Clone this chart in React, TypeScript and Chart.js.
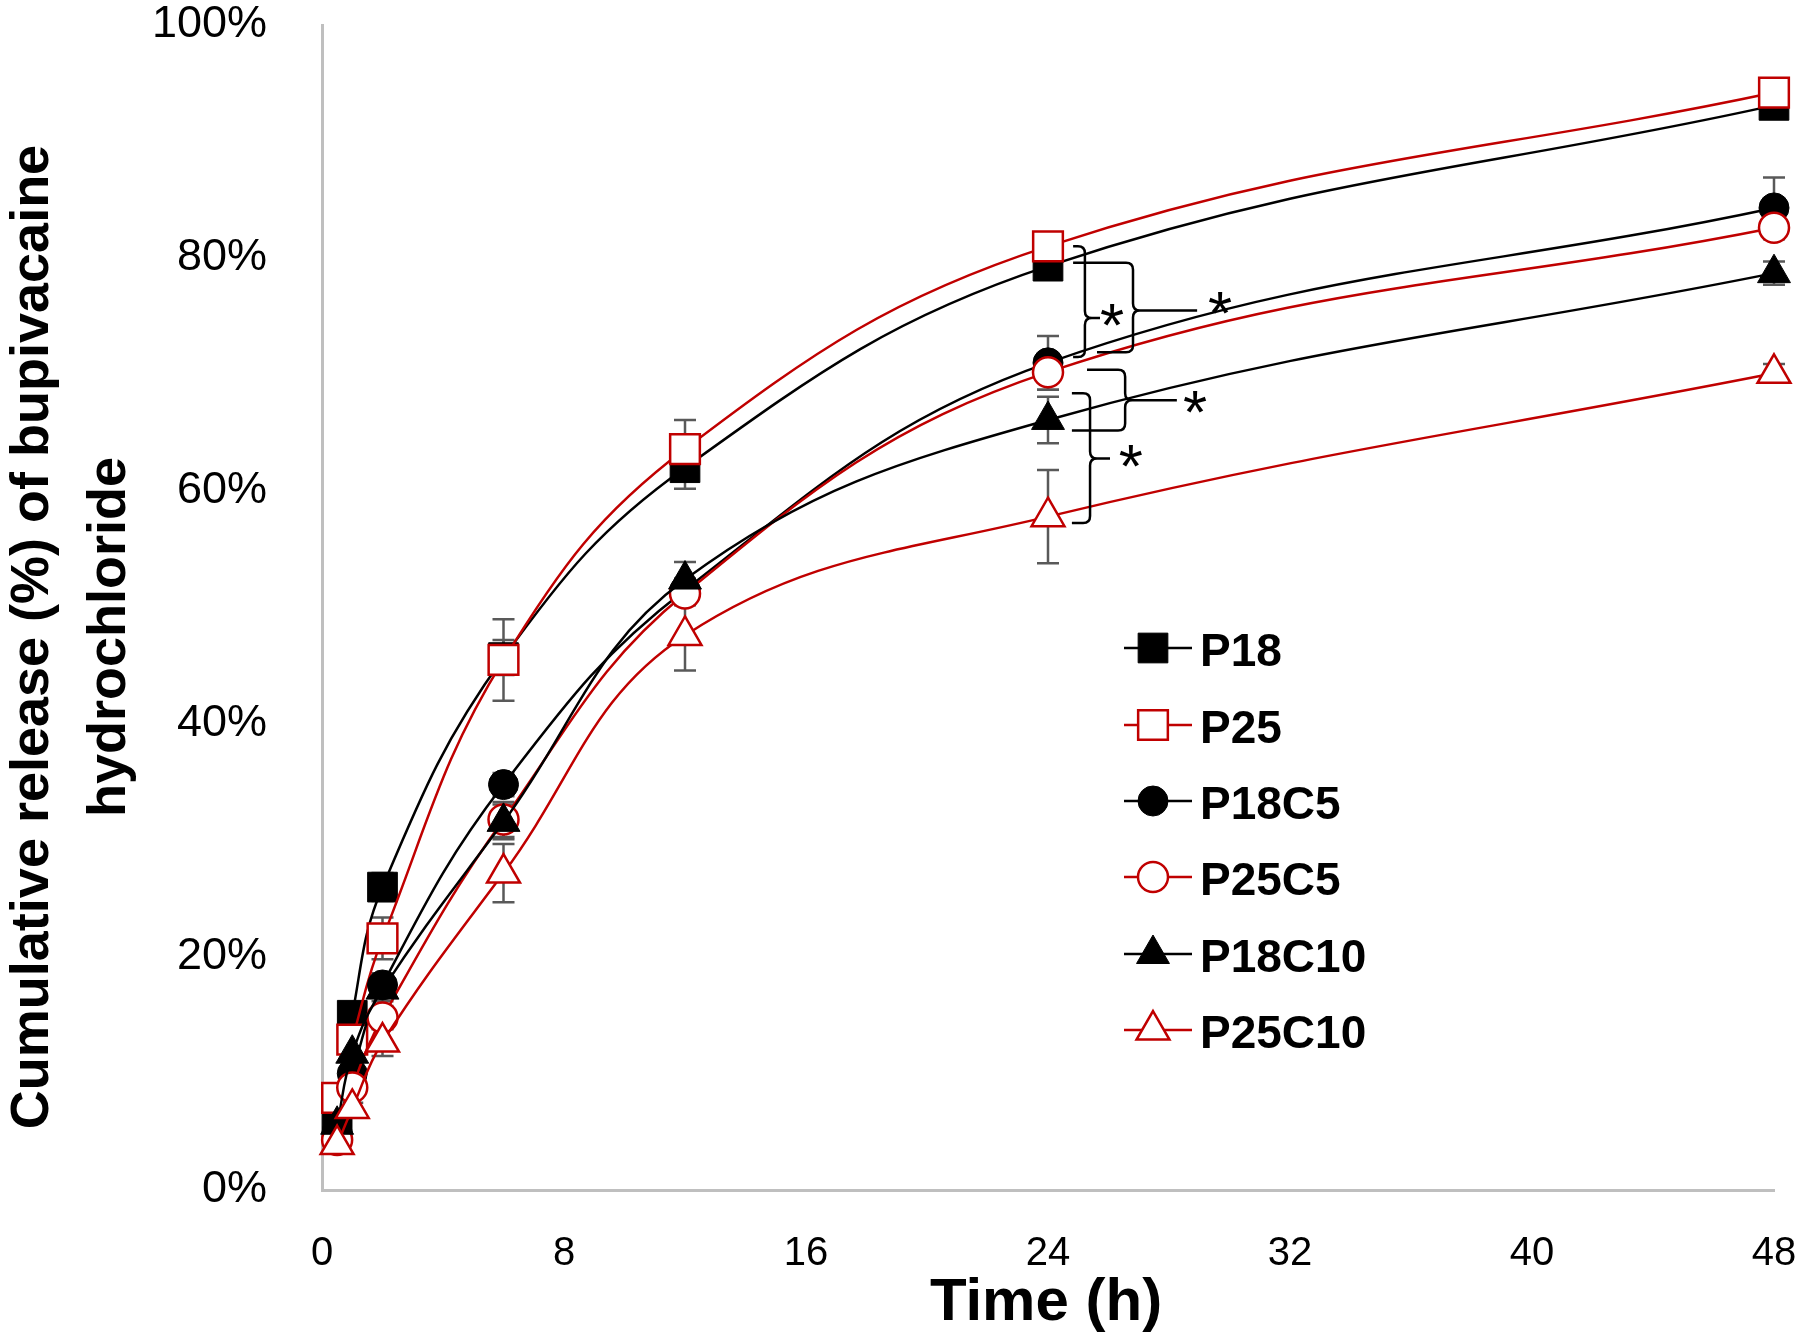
import React, { useEffect, useRef } from 'react';
import { Chart, registerables } from 'chart.js';

Chart.register(...registerables);

// ---------- data ----------
const timePoints = [0.5, 1, 2, 6, 12, 24, 48];
const seriesNames = ['P18', 'P25', 'P18C5', 'P25C5', 'P18C10', 'P25C10'];

const p18 = [5.5, 15.0, 26.0, 45.7, 62.0, 79.3, 93.1];
const p25 = [7.9, 12.9, 21.6, 45.5, 63.6, 81.0, 94.2];
const p18c5 = [5.0, 10.0, 17.6, 34.8, 51.5, 71.0, 84.3];
const p25c5 = [4.3, 8.8, 14.8, 31.8, 51.2, 70.2, 82.6];
const p18c10 = [5.6, 11.7, 17.2, 31.6, 52.4, 66.1, 78.7];
const p25c10 = [3.9, 7.0, 12.7, 27.2, 47.6, 57.8, 70.1];

const p18Err = [0.3, 0.5, 1.2, 1.5, 1.8, 0.8, 0.5];
const p25Err = [0.5, 0.8, 1.8, 3.5, 2.5, 0.8, 0.5];
const p18c5Err = [0.3, 0.5, 1.0, 1.0, 1.0, 2.3, 2.6];
const p25c5Err = [0.3, 0.5, 1.0, 1.5, 1.0, 1.5, 1.0];
const p18c10Err = [0.3, 0.5, 1.0, 1.5, 1.5, 2.0, 1.0];
const p25c10Err = [0.3, 0.5, 1.2, 2.5, 3.0, 4.0, 0.8];

const xTickStep = 8;
const yTickStep = 20;

const yTitleLines = ['Cumulative release (%) of bupivacaine', 'hydrochloride'];
const xTitle = 'Time (h)';

// significance braces, in data units (hours, percent)
const braceAnnotations = [
  { top: 81.0, bottom: 71.5, mid: 74.85, armTop: 24.83, armBot: 24.83, xv: 25.22, tip: 25.72, starX: 26.12, starY: 75.1 },
  { top: 79.6, bottom: 71.9, mid: 75.5, armTop: 24.83, armBot: 25.62, xv: 26.81, tip: 28.93, starX: 29.69, starY: 76.1 },
  { top: 70.4, bottom: 65.2, mid: 67.8, armTop: 25.29, armBot: 24.79, xv: 26.55, tip: 28.26, starX: 28.86, starY: 67.6 },
  { top: 68.4, bottom: 57.25, mid: 62.8, armTop: 24.79, armBot: 24.79, xv: 25.39, tip: 26.05, starX: 26.74, starY: 63.0 },
];

const RED = '#C00000';
const BLACK = '#000000';

const seriesValues = [p18, p25, p18c5, p25c5, p18c10, p25c10];
const seriesErrors = [p18Err, p25Err, p18c5Err, p25c5Err, p18c10Err, p25c10Err];
const seriesColors = [BLACK, RED, BLACK, RED, BLACK, RED];
const seriesFilled = [true, false, true, false, true, false];
const seriesShapes = ['rect', 'rect', 'circle', 'circle', 'triangle', 'triangle'];
const shapeRadius: Record<string, number> = { rect: 21, circle: 15, triangle: 19 };

function shapePath(ctx: CanvasRenderingContext2D, shape: string, x: number, y: number) {
  const r = shapeRadius[shape];
  ctx.beginPath();
  if (shape === 'rect') {
    const s = Math.SQRT1_2 * r;
    ctx.rect(x - s, y - s, 2 * s, 2 * s);
  } else if (shape === 'circle') {
    ctx.arc(x, y, r, 0, Math.PI * 2);
  } else {
    let rad = 0;
    ctx.moveTo(x + Math.sin(rad) * r, y - Math.cos(rad) * r);
    rad += (2 * Math.PI) / 3;
    ctx.lineTo(x + Math.sin(rad) * r, y - Math.cos(rad) * r);
    rad += (2 * Math.PI) / 3;
    ctx.lineTo(x + Math.sin(rad) * r, y - Math.cos(rad) * r);
    ctx.closePath();
  }
}

const errorBarPlugin = {
  id: 'errorBars',
  beforeDatasetsDraw(chart: any) {
    const { ctx } = chart;
    const xs = chart.scales.x;
    const ys = chart.scales.y;
    ctx.save();
    ctx.strokeStyle = '#595959';
    ctx.lineWidth = 2.5;
    seriesValues.forEach((vals, i) => {
      vals.forEach((v, j) => {
        const e = seriesErrors[i][j];
        const x = xs.getPixelForValue(timePoints[j]);
        const y1 = ys.getPixelForValue(v + e);
        const y2 = ys.getPixelForValue(v - e);
        ctx.beginPath();
        ctx.moveTo(x, y1);
        ctx.lineTo(x, y2);
        ctx.moveTo(x - 11, y1);
        ctx.lineTo(x + 11, y1);
        ctx.moveTo(x - 11, y2);
        ctx.lineTo(x + 11, y2);
        ctx.stroke();
      });
    });
    ctx.restore();
  },
};

const overlayPlugin = {
  id: 'overlay',
  afterDraw(chart: any) {
    const { ctx } = chart;
    const xs = chart.scales.x;
    const ys = chart.scales.y;
    const X = (h: number) => xs.getPixelForValue(h);
    const Y = (v: number) => ys.getPixelForValue(v);

    // braces
    ctx.save();
    ctx.strokeStyle = '#000';
    ctx.lineWidth = 2.5;
    ctx.lineJoin = 'round';
    const r = 7;
    braceAnnotations.forEach((b) => {
      const xv = X(b.xv);
      const yTop = Y(b.top);
      const yBot = Y(b.bottom);
      const yMid = Y(b.mid);
      ctx.beginPath();
      ctx.moveTo(X(b.armTop), yTop);
      ctx.lineTo(xv - r, yTop);
      ctx.quadraticCurveTo(xv, yTop, xv, yTop + r);
      ctx.lineTo(xv, yMid - r);
      ctx.quadraticCurveTo(xv, yMid, xv + r, yMid);
      ctx.lineTo(X(b.tip), yMid);
      ctx.moveTo(xv + r, yMid);
      ctx.quadraticCurveTo(xv, yMid, xv, yMid + r);
      ctx.lineTo(xv, yBot - r);
      ctx.quadraticCurveTo(xv, yBot, xv - r, yBot);
      ctx.lineTo(X(b.armBot), yBot);
      ctx.stroke();
      // asterisk
      ctx.fillStyle = '#000';
      ctx.font = '62px "Liberation Sans", Arial, sans-serif';
      ctx.textAlign = 'center';
      ctx.textBaseline = 'alphabetic';
      const m = ctx.measureText('*');
      const asc = m.actualBoundingBoxAscent;
      const desc = m.actualBoundingBoxDescent;
      ctx.fillText('*', X(b.starX), Y(b.starY) + (asc - desc) / 2);
    });
    ctx.restore();

    // legend
    ctx.save();
    const rowY = [648, 725, 801, 877, 954, 1030];
    seriesNames.forEach((name, i) => {
      const y = rowY[i];
      ctx.strokeStyle = seriesColors[i];
      ctx.lineWidth = 2.5;
      ctx.beginPath();
      ctx.moveTo(1124, y);
      ctx.lineTo(1192, y);
      ctx.stroke();
      shapePath(ctx, seriesShapes[i], 1153, y);
      ctx.fillStyle = seriesFilled[i] ? seriesColors[i] : '#ffffff';
      ctx.fill();
      ctx.lineWidth = seriesFilled[i] ? 1 : 2.5;
      ctx.stroke();
      ctx.fillStyle = '#000';
      ctx.font = 'bold 46px "Liberation Sans", Arial, sans-serif';
      ctx.textAlign = 'left';
      ctx.textBaseline = 'alphabetic';
      ctx.fillText(name, 1200, y + 18);
    });
    ctx.restore();

    // axis titles
    ctx.save();
    ctx.fillStyle = '#000';
    ctx.textAlign = 'center';
    ctx.textBaseline = 'alphabetic';
    ctx.font = 'bold 54px "Liberation Sans", Arial, sans-serif';
    const baselines = [48, 125];
    yTitleLines.forEach((line, k) => {
      ctx.save();
      ctx.translate(baselines[k], 637);
      ctx.rotate(-Math.PI / 2);
      ctx.fillText(line, 0, 0);
      ctx.restore();
    });
    ctx.font = 'bold 60px "Liberation Sans", Arial, sans-serif';
    ctx.fillText(xTitle, 1046, 1320);
    ctx.restore();
  },
};

function zeroPadding(scale: any) {
  scale.paddingTop = 0;
  scale.paddingBottom = 0;
  scale.paddingLeft = 0;
  scale.paddingRight = 0;
}

export default function App() {
  const canvasRef = useRef<HTMLCanvasElement | null>(null);

  useEffect(() => {
    document.body.style.margin = '0';
    document.body.style.overflow = 'hidden';
    const canvas = canvasRef.current;
    if (!canvas) return;

    const datasets = seriesNames.map((name, i) => ({
      label: name,
      data: timePoints.map((t, j) => ({ x: t, y: seriesValues[i][j] })),
      borderColor: seriesColors[i],
      borderWidth: 2.5,
      backgroundColor: seriesFilled[i] ? seriesColors[i] : '#ffffff',
      pointStyle: seriesShapes[i],
      pointRadius: shapeRadius[seriesShapes[i]],
      pointBackgroundColor: seriesFilled[i] ? seriesColors[i] : '#ffffff',
      pointBorderColor: seriesColors[i],
      pointBorderWidth: seriesFilled[i] ? 1 : 2.5,
      tension: 0.4,
      fill: false,
      clip: false as any,
      order: -i,
    }));

    const chart = new Chart(canvas, {
      type: 'line',
      data: { datasets },
      options: {
        animation: false,
        responsive: false,
        devicePixelRatio: 1,
        layout: { padding: { top: 25, right: 26, left: 0, bottom: 0 } },
        plugins: {
          legend: { display: false },
          tooltip: { enabled: false },
        },
        scales: {
          x: {
            type: 'linear',
            min: 0,
            max: 48,
            grid: { display: false, drawTicks: false },
            border: { display: true, color: '#BFBFBF', width: 3 },
            ticks: {
              stepSize: xTickStep,
              padding: 40,
              color: '#000',
              font: { family: '"Liberation Sans", Arial, sans-serif', size: 40 },
            },
            afterFit(scale: any) {
              scale.height = 151;
              zeroPadding(scale);
            },
          },
          y: {
            type: 'linear',
            min: 0,
            max: 100,
            grid: { display: false, drawTicks: false },
            border: { display: true, color: '#BFBFBF', width: 3 },
            ticks: {
              stepSize: yTickStep,
              padding: 55,
              color: '#000',
              font: { family: '"Liberation Sans", Arial, sans-serif', size: 45, lineHeight: 1 },
              callback: (v: any) => `${v}%`,
            },
            afterFit(scale: any) {
              scale.width = 322;
              zeroPadding(scale);
            },
          },
        },
      },
      plugins: [errorBarPlugin, overlayPlugin],
    });

    return () => {
      chart.destroy();
    };
  }, []);

  return (
    <div style={{ width: 1800, height: 1341, background: '#fff' }}>
      <canvas ref={canvasRef} width={1800} height={1341} style={{ display: 'block' }} />
    </div>
  );
}
